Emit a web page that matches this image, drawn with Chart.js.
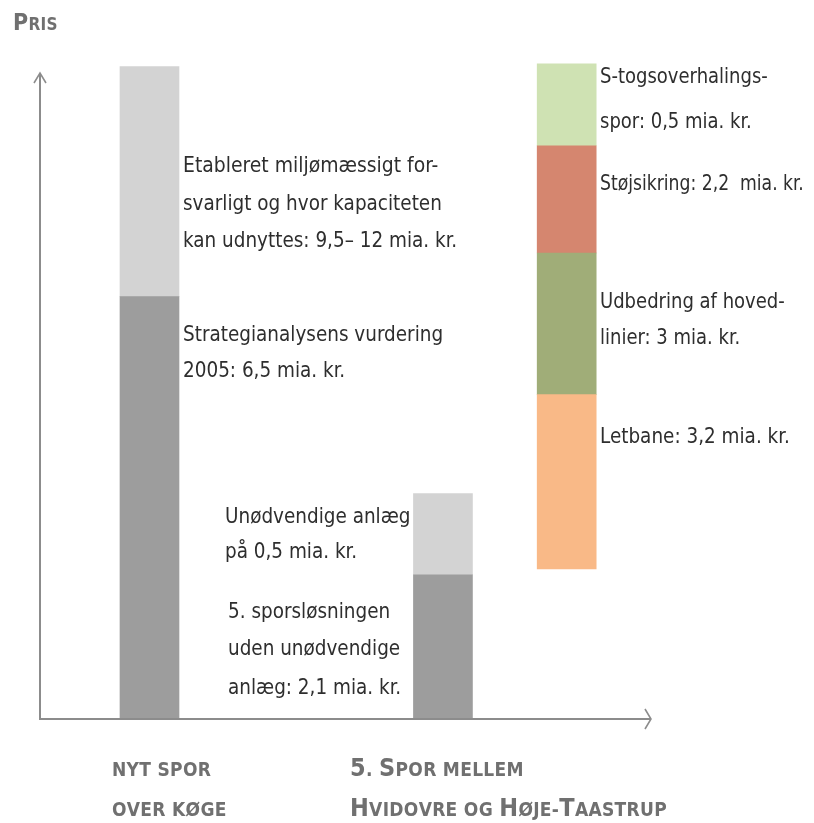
<!DOCTYPE html>
<html>
<head>
<meta charset="utf-8">
<script src="https://cdn.jsdelivr.net/npm/chart.js@4/dist/chart.umd.min.js"></script>
<style>
  html,body{margin:0;padding:0;background:#fff;}
  #wrap{width:814px;height:823px;position:relative;}
</style>
</head>
<body>
<div id="wrap"><canvas id="c" width="814" height="823"></canvas></div>
<script>
// bar positions along the (hidden) x axis
const categories = ['Nyt spor over Køge', '5. spor mellem Hvidovre og Høje-Taastrup', 'Andre projekter'];
const xPos = [1, 3.68, 4.81];

// two-part bars (mia. kr. - not to scale with labels)
const baseCost  = [6.5, 2.22];   // dark gray
const extraCost = [3.54, 1.25];  // light gray on top

// floating stack for the third column
const stackStart = 2.31;
const stackNames  = ['Letbane', 'Udbedring af hovedlinier', 'Støjsikring', 'S-togsoverhalingsspor'];
const stackValues = [2.68, 2.18, 1.65, 1.26];
const stackColors = ['#f9b987', '#a0ad78', '#d5866f', '#cfe2b3'];

const FONT = '"DejaVu Sans Condensed", "Open Sans", sans-serif';

const datasets = [];
datasets.push({
  label: 'Basis',
  data: baseCost.map((v,i)=>({x:xPos[i], y:[0, v]})),
  backgroundColor: '#9d9d9d'
});
datasets.push({
  label: 'Ekstra',
  data: extraCost.map((v,i)=>({x:xPos[i], y:[baseCost[i], baseCost[i]+v]})),
  backgroundColor: '#d3d3d3'
});
let acc = stackStart;
stackValues.forEach((v,i)=>{
  datasets.push({
    label: stackNames[i],
    data: [{x:xPos[2], y:[acc, acc+v]}],
    backgroundColor: stackColors[i]
  });
  acc += v;
});
datasets.forEach(d=>{ d.grouped=false; d.barThickness=59; d.clip=false; d.borderWidth=0; });

// annotation texts (left edge x, middle y, horizontal squeeze)
const notes = [
  ['Etableret miljømæssigt for-', 183, 166, 0.95],
  ['svarligt og hvor kapaciteten', 183, 204, 0.93],
  ['kan udnyttes: 9,5– 12 mia. kr.', 183, 241, 0.93],
  ['Strategianalysens vurdering', 183, 335, 0.93],
  ['2005: 6,5 mia. kr.', 183, 371, 0.93],
  ['Unødvendige anlæg', 225, 517, 0.93],
  ['på 0,5 mia. kr.', 225, 552, 0.93],
  ['5. sporsløsningen', 228, 612, 0.93],
  ['uden unødvendige', 228, 649, 0.93],
  ['anlæg: 2,1 mia. kr.', 228, 688, 0.93],
  ['S-togsoverhalings-', 600, 77, 0.91],
  ['spor: 0,5 mia. kr.', 600, 122, 0.91],
  ['Støjsikring: 2,2  mia. kr.', 600, 184, 0.87],
  ['Udbedring af hoved-', 600, 302, 0.91],
  ['linier: 3 mia. kr.', 600, 338, 0.91],
  ['Letbane: 3,2 mia. kr.', 600, 437, 0.93]
];

// small-caps text: capitals big, the rest small capitals
function smallCaps(ctx, text, x, y, big, small){
  for(const ch of text){
    const isBig = ch === ch.toUpperCase() && ch !== ch.toLowerCase() || /[0-9]/.test(ch);
    ctx.font = 'bold ' + (isBig?big:small) + 'px ' + FONT;
    ctx.fillText(ch.toUpperCase(), x, y);
    x += ctx.measureText(ch.toUpperCase()).width + 0.3;
  }
}

const decor = {
  id: 'decor',
  afterDatasetsDraw(chart){
    const {ctx, chartArea:a} = chart;
    ctx.save();
    // axes with arrow heads
    ctx.strokeStyle = '#8c8c8c';
    ctx.lineWidth = 2;
    ctx.beginPath();
    ctx.moveTo(a.left, a.top); ctx.lineTo(a.left, a.bottom); ctx.lineTo(a.right, a.bottom);
    ctx.stroke();
    ctx.lineWidth = 1.6;
    ctx.beginPath();
    ctx.moveTo(a.left-6, a.top+10); ctx.lineTo(a.left, a.top); ctx.lineTo(a.left+6, a.top+10);
    ctx.moveTo(a.right-6, a.bottom-10); ctx.lineTo(a.right, a.bottom); ctx.lineTo(a.right-6, a.bottom+10);
    ctx.stroke();

    // notes, slightly condensed
    ctx.fillStyle = '#2e2e2e';
    ctx.textBaseline = 'middle';
    ctx.textAlign = 'left';
    ctx.font = '22px ' + FONT;
    notes.forEach(n=>{
      ctx.save();
      ctx.translate(n[1], n[2]);
      ctx.scale(n[3], 1);
      ctx.fillText(n[0], 0, 0);
      ctx.restore();
    });

    // axis title and category labels
    ctx.fillStyle = '#707070';
    ctx.textBaseline = 'alphabetic';
    smallCaps(ctx, 'Pris', 13, 30, 23, 17);
    smallCaps(ctx, 'nyt spor', 112, 776, 22, 19);
    smallCaps(ctx, 'over køge', 112, 816, 22, 19);
    smallCaps(ctx, '5. Spor mellem', 350, 776, 25, 19);
    smallCaps(ctx, 'Hvidovre og Høje-Taastrup', 350, 816, 25, 19);
    ctx.restore();
  }
};

new Chart(document.getElementById('c'), {
  type: 'bar',
  data: { datasets },
  options: {
    responsive: false,
    animation: false,
    layout: { padding: { left: 40, top: 73, right: 163, bottom: 104 } },
    scales: {
      x: { type: 'linear', display: false, offset: false, min: 0, max: 5.58 },
      y: { display: false, min: 0, max: 9.94 }
    },
    plugins: { legend: { display: false }, tooltip: { enabled: false } }
  },
  plugins: [decor]
});
</script>
</body>
</html>
